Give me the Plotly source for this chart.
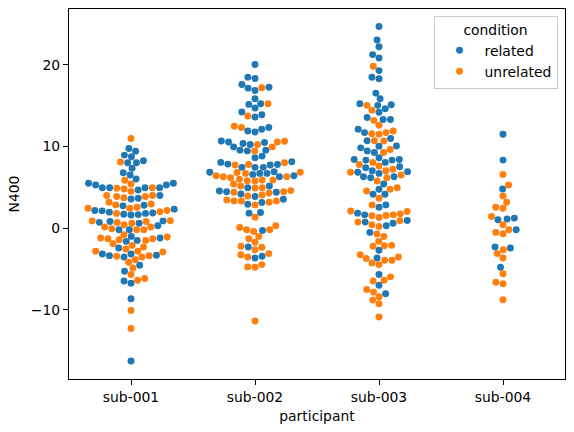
import numpy as np
import plotly.graph_objects as go

participants = ["sub-001", "sub-002", "sub-003", "sub-004"]
conditions = ["related", "unrelated"]
colors = {"related": "#1f77b4", "unrelated": "#ff7f0e"}
y_tick_vals = [-10, 0, 10, 20]
y_tick_text = ["\u221210", "0", "10", "20"]

sub001_related = [9.76, 9.43, 8.94, 8.73, 8.24, 8.0, 8.0, 7.32, 6.78, 6.5,
                  6.01, 5.49, 5.28, 5.28, 5.49, 4.95, 4.95, 4.67, 4.95, 4.95,
                  3.98, 3.66, 3.57, 2.8, 2.72, 2.32, 2.15, 2.11, 1.95, 1.8,
                  1.65, 1.6, 1.7, 1.85, 0.88, 0.8, 0.6, 0.7, 0.28, -0.2,
                  -0.2, -1.22, -1.63, -1.51, -1.02, -2.44, -3.38, -3.54, -3.17, -3.34,
                  -3.17, -4.56, -5.3, -6.5, -6.75, -8.66, -16.3]
sub001_unrelated = [10.98, 8.09, 5.85, 5.40, 4.95, 4.5, 4.79, 4.87, 3.86, 3.73,
                    3.86, 3.98, 3.98, 3.17, 2.96, 2.56, 2.44, 2.44, 2.84, 2.15,
                    2.0, 1.8, 0.9, 0.8, 0.6, 0.68, 0.88, -0.09, 0.12, -0.2,
                    0.12, 0.4, -0.2, -1.1, -1.43, -1.51, -1.3, -0.82, -1.3, -1.22,
                    -2.32, -2.12, -1.91, -2.56, -3.38, -3.54, -2.85, -2.93, -2.85, -3.46,
                    -3.87, -4.2, -4.88, -5.7, -6.18, -6.39, -10.1, -12.3]

sub002_related = [20.04, 18.5, 18.33, 17.6, 17.15, 16.87, 17.27, 15.85, 15.16, 15.24,
                  14.71, 14.22, 13.61, 13.9, 12.32, 12.11, 11.78, 11.9, 9.95, 10.49,
                  9.55, 10.24, 9.46, 9.55, 10.37, 10.56, 10.68, 8.82, 8.61, 8.12,
                  7.84, 7.44, 7.44, 7.72, 7.44, 7.8, 8.05, 6.83, 6.42, 6.3,
                  6.58, 6.7, 6.7, 6.9, 5.16, 4.95, 4.18, 3.86, 4.4, 4.46,
                  4.55, 2.93, 3.13, 3.54, 1.83, 1.9, -0.29, -2.32, -3.66, -3.46]
sub002_unrelated = [17.2, 15.24, 13.73, 12.32, 12.48, 10.65, 10.56, 9.95, 9.46, 10.24,
                    7.8, 7.72, 8.0, 6.17, 6.83, 6.7, 6.3, 6.3, 6.42, 6.8,
                    6.0, 5.9, 5.77, 5.8, 5.9, 5.4, 4.9, 4.59, 4.95, 5.16,
                    4.46, 4.4, 3.94, 4.06, 4.3, 3.45, 3.33, 3.17, 2.84, 3.33,
                    3.33, 1.34, 0.28, -0.2, -0.41, -0.2, 0.08, -1.3, -1.02, -1.75,
                    -2.24, -2.65, -2.36, -3.13, -3.26, -3.54, -4.76, -4.8, -4.48, -11.39]

sub003_related = [24.7, 23.05, 22.23, 21.26, 20.85, 19.3, 18.49, 18.29, 16.54, 15.85,
                  15.24, 15.04, 14.63, 15.12, 14.2, 13.54, 13.3, 13.3, 12.11, 11.7,
                  10.98, 10.7, 10.07, 10.04, 9.27, 9.46, 9.83, 8.41, 8.61, 8.05,
                  8.33, 8.33, 8.41, 7.02, 6.9, 7.39, 7.51, 6.7, 6.83, 6.3,
                  6.17, 6.3, 5.4, 4.75, 4.15, 4.15, 2.84, 2.56, 1.62, 1.83,
                  0.93, 0.6, 0.28, 0.73, -0.53, -2.73, -3.66, -5.7, -7.0, -8.05]
sub003_unrelated = [19.83, 15.04, 14.43, 13.2, 12.6, 11.7, 11.5, 11.55, 11.9, 10.68,
                    10.7, 9.63, 9.27, 8.05, 7.8, 7.2, 6.83, 7.6, 7.02, 6.5,
                    6.17, 5.77, 4.95, 4.55, 4.75, 3.66, 2.84, 2.1, 1.74, 1.5,
                    1.54, 1.62, 2.03, 0.89, 0.2, 0.4, 0.73, 1.3, -1.02, -0.73,
                    -1.63, -2.24, -2.16, -2.12, -3.26, -3.74, -4.27, -4.48, -3.95, -3.95,
                    -3.54, -5.98, -6.5, -6.39, -7.52, -7.85, -8.41, -8.83, -9.27, -10.9]

sub004_related = [11.5, 8.33, 4.79, 1.01, 1.1, 1.22, -0.2, -2.32, -2.44, -4.8]
sub004_unrelated = [6.58, 5.28, 3.94, 3.17, 2.56, 2.44, 1.42, 0.4, -0.53, -0.7,
                    -0.2, -2.65, -3.13, -3.66, -5.6, -6.63, -6.83, -8.78]

data = {
    "sub-001": {"related": sub001_related, "unrelated": sub001_unrelated},
    "sub-002": {"related": sub002_related, "unrelated": sub002_unrelated},
    "sub-003": {"related": sub003_related, "unrelated": sub003_unrelated},
    "sub-004": {"related": sub004_related, "unrelated": sub004_unrelated},
}

# ---- layout geometry (pixels) used by the swarm algorithm ----
W, H = 574, 432
M_L, M_R, M_T, M_B = 69, 9, 9, 53
X_RANGE = [-0.5, 3.5]
Y_RANGE = [-18.5, 26.85]
px_per_x = (W - M_L - M_R) / (X_RANGE[1] - X_RANGE[0])
px_per_y = (H - M_T - M_B) / (Y_RANGE[1] - Y_RANGE[0])
RADIUS = 5 / 2 * (100 / 72)  # seaborn size=5pt at dpi 100


def beeswarm_offsets(values):
    """seaborn-style beeswarm; returns x offsets in pixels."""
    vals = np.asarray(values, float) * px_per_y
    n = len(vals)
    orig = np.c_[np.zeros(n), vals, np.full(n, RADIUS)]
    sorter = np.argsort(orig[:, 1])
    oxyr = orig[sorter]
    midline = oxyr[0, 0]
    swarm = np.atleast_2d(oxyr[0])
    for xyr_i in oxyr[1:]:
        _, y_i, r_i = xyr_i
        nb = []
        for xyr_j in reversed(swarm):
            if (y_i - xyr_j[1]) < (r_i + xyr_j[2]):
                nb.append(xyr_j)
            else:
                break
        nb = np.array(nb[::-1])
        cands = [xyr_i]
        left_first = True
        for x_j, y_j, r_j in nb:
            dy = y_i - y_j
            dx = np.sqrt(max((r_i + r_j) ** 2 - dy ** 2, 0)) * 1.05
            cl, cr = (x_j - dx, y_i, r_i), (x_j + dx, y_i, r_i)
            cands.extend([cl, cr] if left_first else [cr, cl])
            left_first = not left_first
        cands = np.array(cands)
        cands = cands[np.argsort(np.abs(cands[:, 0] - midline))]
        chosen = cands[0]
        if len(nb):
            for c in cands:
                d2 = (nb[:, 0] - c[0]) ** 2 + (nb[:, 1] - c[1]) ** 2
                if np.all(d2 >= (nb[:, 2] + c[2]) ** 2):
                    chosen = c
                    break
        swarm = np.vstack([swarm, chosen])
    new = np.empty_like(swarm)
    new[sorter] = swarm
    off = new[:, 0]
    lim = 0.4 * px_per_x
    return np.clip(off, -lim, lim)


traces = {c: {"x": [], "y": []} for c in conditions}
for ci, p in enumerate(participants):
    vals, conds = [], []
    for c in conditions:
        vals += data[p][c]
        conds += [c] * len(data[p][c])
    offs = beeswarm_offsets(vals)
    for v, c, o in zip(vals, conds, offs):
        traces[c]["x"].append(ci + o / px_per_x)
        traces[c]["y"].append(v)

fig = go.Figure()
for c in conditions:
    fig.add_trace(go.Scatter(
        x=traces[c]["x"], y=traces[c]["y"], mode="markers", name=c,
        marker=dict(color=colors[c], size=2 * RADIUS, line=dict(width=0)),
    ))

FONT = dict(family="DejaVu Sans", size=13.9, color="black")
axis_common = dict(showline=True, mirror=True, linecolor="black", linewidth=1.1,
                   ticks="outside", ticklen=5, tickwidth=1.1, tickcolor="black",
                   showgrid=False, zeroline=False, tickfont=FONT)
fig.update_layout(
    width=W, height=H,
    margin=dict(l=M_L, r=M_R, t=M_T, b=M_B, pad=0),
    paper_bgcolor="white", plot_bgcolor="white",
    font=FONT,
    xaxis=dict(range=X_RANGE, tickmode="array", tickvals=list(range(len(participants))),
               ticktext=participants, title=dict(text="participant", font=FONT, standoff=7),
               **axis_common),
    yaxis=dict(range=Y_RANGE, tickmode="array", tickvals=y_tick_vals, ticktext=y_tick_text,
               title=dict(text="N400", font=FONT, standoff=7), **axis_common),
    legend=dict(x=0.985, xanchor="right", y=0.982, yanchor="top",
                bgcolor="rgba(255,255,255,0.8)", bordercolor="#cccccc", borderwidth=1,
                title=dict(text="condition", side="top center", font=FONT),
                font=FONT, itemwidth=40),
    showlegend=True,
)

fig.write_html("out.html")
